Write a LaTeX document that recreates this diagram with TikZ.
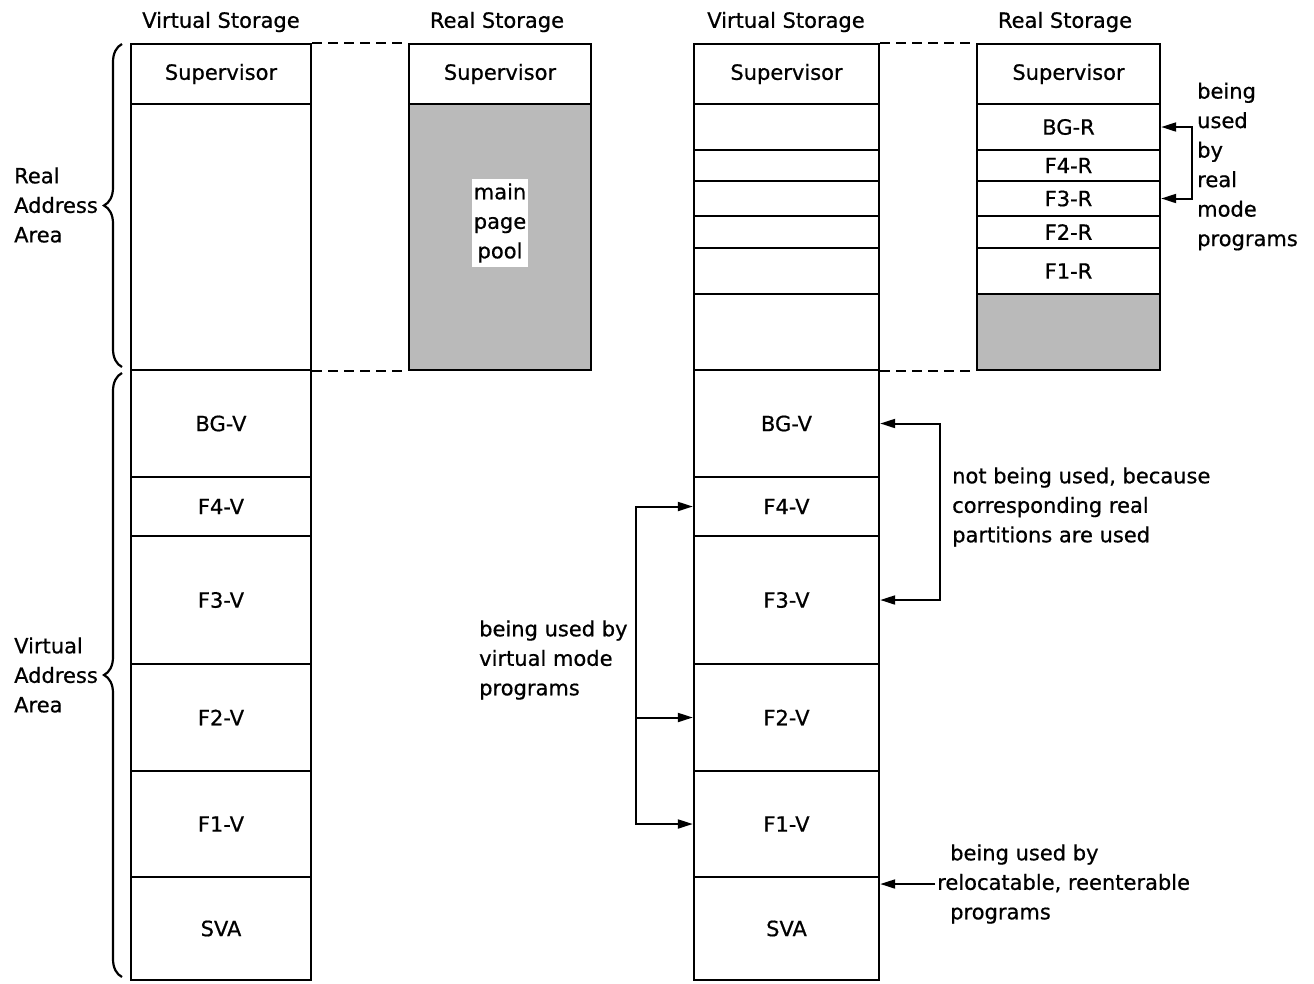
\documentclass[tikz,border=0pt]{standalone}
\usepackage{fontspec}
\setmainfont{DejaVu Sans}[FakeBold=0.7]
\usetikzlibrary{arrows.meta,decorations.pathreplacing}
\newcommand\lblfont{\fontsize{21}{29.5}\selectfont}
\begin{document}
\begin{tikzpicture}[x=1pt,y=1pt,
  cell/.style={draw, line width=2.4pt, inner sep=0pt, font=\lblfont},
  vcol/.style={cell, minimum width=180pt},
  rcol/.style={cell, minimum width=182pt},
  vcolb/.style={cell, minimum width=185pt},
  rcolb/.style={cell, minimum width=183pt},
  shaded/.style={fill=black!27},
  head/.style={inner sep=0pt, font=\lblfont},
  note/.style={align=left, inner sep=0pt, font=\lblfont},
  dashline/.style={line width=2.2pt, dash pattern=on 10pt off 6pt},
  bracestyle/.style={line width=2.2pt, decorate, decoration={brace, amplitude=18pt}},
  tipstyle/.tip={Triangle[length=15pt,width=9pt]},
  arr/.style={line width=2pt, -tipstyle},
  arrboth/.style={line width=2pt, tipstyle-tipstyle}]
\useasboundingbox (0,0) rectangle (1314,-983);

% ---------- headers ----------
\node[head] (h1) at (221,-22) {Virtual Storage};
\node[head] (h2) at (497,-22) {Real Storage};
\node[head] (h3) at (786,-22) {Virtual Storage};
\node[head] (h4) at (1065,-22) {Real Storage};

% ---------- left virtual storage ----------
\node[vcol, minimum height=60pt]  (lsup) at (221,-74) {Supervisor};
\node[vcol, minimum height=266pt] (lreal) at (221,-237) {};
\node[vcol, minimum height=107pt] (lbg) at (221,-423.5) {BG-V};
\node[vcol, minimum height=59pt]  (lf4) at (221,-506.5) {F4-V};
\node[vcol, minimum height=128pt] (lf3) at (221,-600) {F3-V};
\node[vcol, minimum height=107pt] (lf2) at (221,-717.5) {F2-V};
\node[vcol, minimum height=106pt] (lf1) at (221,-824) {F1-V};
\node[vcol, minimum height=103pt] (lsva) at (221,-928.5) {SVA};

% ---------- left real storage ----------
\node[rcol, minimum height=60pt]  (rsup) at (500,-74) {Supervisor};
\node[rcol, shaded, minimum height=266pt] (rpool) at (500,-237) {};
\node[fill=white, align=center, inner xsep=2pt, inner ysep=4pt, font=\lblfont] (pooltxt) at (500,-223) {main\\page\\pool};

% dashed boundaries
\draw[dashline] (lsup.north east) -- (rsup.north west);
\draw[dashline] (lreal.south east) -- (rpool.south west);

% braces and area labels
\draw[bracestyle] (122,-367) -- (122,-44);
\draw[bracestyle] (122,-977) -- (122,-373);
\node[note, anchor=west] (realarea) at (14,-205) {Real\\Address\\Area};
\node[note, anchor=west] (virtarea) at (14,-675) {Virtual\\Address\\Area};

% ---------- right virtual storage ----------
\node[vcolb, minimum height=60pt] (vsup) at (786.5,-74) {Supervisor};
\node[vcolb, minimum height=46pt] (vr1) at (786.5,-127) {};
\node[vcolb, minimum height=31pt] (vr2) at (786.5,-165.5) {};
\node[vcolb, minimum height=35pt] (vr3) at (786.5,-198.5) {};
\node[vcolb, minimum height=32pt] (vr4) at (786.5,-232) {};
\node[vcolb, minimum height=46pt] (vr5) at (786.5,-271) {};
\node[vcolb, minimum height=76pt] (vr6) at (786.5,-332) {};
\node[vcolb, minimum height=107pt] (vbg) at (786.5,-423.5) {BG-V};
\node[vcolb, minimum height=59pt]  (vf4) at (786.5,-506.5) {F4-V};
\node[vcolb, minimum height=128pt] (vf3) at (786.5,-600) {F3-V};
\node[vcolb, minimum height=107pt] (vf2) at (786.5,-717.5) {F2-V};
\node[vcolb, minimum height=106pt] (vf1) at (786.5,-824) {F1-V};
\node[vcolb, minimum height=103pt] (vsva) at (786.5,-928.5) {SVA};

% ---------- right real storage ----------
\node[rcolb, minimum height=60pt] (qsup) at (1068.5,-74) {Supervisor};
\node[rcolb, minimum height=46pt] (qbg) at (1068.5,-127) {BG-R};
\node[rcolb, minimum height=31pt] (qf4) at (1068.5,-165.5) {F4-R};
\node[rcolb, minimum height=35pt] (qf3) at (1068.5,-198.5) {F3-R};
\node[rcolb, minimum height=32pt] (qf2) at (1068.5,-232) {F2-R};
\node[rcolb, minimum height=46pt] (qf1) at (1068.5,-271) {F1-R};
\node[rcolb, shaded, minimum height=76pt] (qfree) at (1068.5,-332) {};

\draw[dashline] (vsup.north east) -- (qsup.north west);
\draw[dashline] (vr6.south east) -- (qfree.south west);

% ---------- annotations ----------
\node[note, anchor=west] (realmode) at (1197,-166.5) {being\\used\\by\\real\\mode\\programs};
\draw[arrboth] (qbg.east) -- ++(31,0) |- (qf3.east);

\node[note, anchor=west] (notused) at (952,-507) {not being used, because\\corresponding real\\partitions are used};
\draw[arrboth] (vbg.east) -- ++(60,0) |- (vf3.east);

\node[note, anchor=west] (virtmode) at (479,-660) {being used by\\virtual mode\\programs};
\coordinate (vbx) at (637,-718);
\draw[arrboth] (vf4.west) -- ++(-57,0) |- (vf1.west);
\draw[arr] (vf2.west -| vbx) -- (vf2.west);

\node[note, anchor=west] (reloc) at (937,-884) {\hspace*{13pt}being used by\\relocatable, reenterable\\\hspace*{13pt}programs};
\draw[arr] ([xshift=-2pt]reloc.west) -- (reloc.west -| vsva.east);
\end{tikzpicture}
\end{document}
